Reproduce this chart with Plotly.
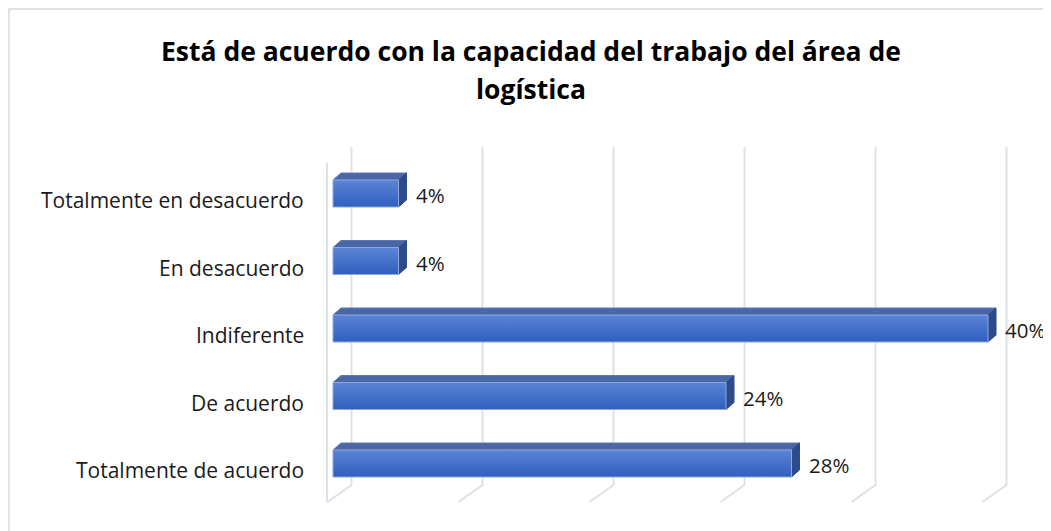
import plotly.graph_objects as go

# ---- data ----
categories = ["Totalmente en desacuerdo", "En desacuerdo", "Indiferente",
              "De acuerdo", "Totalmente de acuerdo"]
values = [4, 4, 40, 24, 28]
value_labels = ["4%", "4%", "40%", "24%", "28%"]
grid_ticks = [0, 8, 16, 24, 32, 40]
title_line1 = "Está de acuerdo con la capacidad del trabajo del área de"
title_line2 = "logística"

# ---- layout geometry (screen pixels; page body has an 8px margin) ----
OFF = 8
W, H = 1051 - OFF, 531 - OFF          # figure size
PX_PER_UNIT = 16.375                  # horizontal scale
X0_PX = 333 - OFF                     # pixel of value 0 (front face)
ROW_PX = 67.5                         # vertical spacing between bars
ROW0_PX = 193.5 - OFF                 # centre pixel of first bar
BAR_HALF = 0.2                        # half bar thickness in row units
DEPTH_DX, DEPTH_DY = 8, 7             # bar 3D depth in pixels


def ux(px):  # pixel distance -> x data units
    return px / PX_PER_UNIT


def uy(px):  # pixel distance -> y data units
    return px / ROW_PX


def sy(screen_y):  # screen y -> y data units
    return uy(screen_y - OFF - ROW0_PX)


x_range = [-X0_PX / PX_PER_UNIT, (W - X0_PX) / PX_PER_UNIT]
y_range = [(H - ROW0_PX) / ROW_PX, -ROW0_PX / ROW_PX]

fig = go.Figure()

# gridlines (back wall + floor)
GRID = "#dde1e8"
back_dx = ux(18.5)
y_top_wall = sy(147)
y_floor_back = sy(485)
y_floor_front = sy(502)
for t in grid_ticks:
    fig.add_trace(go.Scatter(
        x=[t + back_dx, t + back_dx, t + back_dx - ux(24)],
        y=[y_top_wall, y_floor_back, y_floor_front],
        mode="lines", line=dict(color=GRID, width=2),
        hoverinfo="skip", showlegend=False))
# left wall front edge
fig.add_trace(go.Scatter(
    x=[-ux(6), -ux(6)], y=[sy(163), y_floor_front],
    mode="lines", line=dict(color=GRID, width=2),
    hoverinfo="skip", showlegend=False))

# bars
ddx, ddy = ux(DEPTH_DX), uy(DEPTH_DY)
for i, (cat, v) in enumerate(zip(categories, values)):
    top, bot = i - BAR_HALF, i + BAR_HALF
    # top face
    fig.add_trace(go.Scatter(
        x=[0, v, v + ddx, ddx, 0], y=[top, top, top - ddy, top - ddy, top],
        fill="toself", fillcolor="#4b66a4", mode="lines",
        line=dict(color="#5d78b4", width=1),
        hoverinfo="skip", showlegend=False))
    # right face
    fig.add_trace(go.Scatter(
        x=[v, v + ddx, v + ddx, v, v], y=[top, top - ddy, bot - ddy, bot, top],
        fill="toself", fillcolor="#2d4a8b", mode="lines",
        line=dict(color="#2d4a8b", width=1),
        hoverinfo="skip", showlegend=False))
    # front face
    fig.add_trace(go.Scatter(
        x=[0, v, v, 0, 0], y=[top, top, bot, bot, top],
        fill="toself",
        fillgradient=dict(type="vertical", start=top, stop=bot,
                          colorscale=[[0, "#5b84d5"], [1, "#2f5fbe"]]),
        mode="lines", line=dict(color="#8ea7dc", width=1),
        name=cat, hoverinfo="skip", showlegend=False))

FONT = "Open Sans"
annotations = []
# value labels
for i, (v, lab) in enumerate(zip(values, value_labels)):
    annotations.append(dict(
        x=v, y=i, xref="x", yref="y", text=lab, showarrow=False,
        xanchor="left", yanchor="middle", xshift=15, yshift=-1.5,
        font=dict(family=FONT, size=20.5, color="#1a1a1a")))
# category labels
for i, cat in enumerate(categories):
    annotations.append(dict(
        x=0, y=i, xref="x", yref="y", text=cat, showarrow=False,
        xanchor="right", yanchor="middle", xshift=-27, yshift=-6.5,
        font=dict(family=FONT, size=21, color="#1a1a1a")))
# title
annotations.append(dict(
    x=(531 - OFF) / W, y=1 - (51 - OFF) / H, xref="paper", yref="paper",
    text=title_line1, showarrow=False, xanchor="center", yanchor="middle",
    font=dict(family=FONT, size=26.5, color="#000000", weight="bold")))
annotations.append(dict(
    x=(531 - OFF) / W, y=1 - (89 - OFF) / H, xref="paper", yref="paper",
    text=title_line2, showarrow=False, xanchor="center", yanchor="middle",
    font=dict(family=FONT, size=26.5, color="#000000", weight="bold")))

fig.update_layout(
    width=W, height=H,
    margin=dict(l=0, r=0, t=0, b=0),
    paper_bgcolor="white", plot_bgcolor="white",
    xaxis=dict(range=x_range, visible=False, fixedrange=True),
    yaxis=dict(range=y_range, visible=False, fixedrange=True),
    annotations=annotations,
    shapes=[dict(type="rect", xref="paper", yref="paper",
                 x0=(9 - OFF) / W, x1=1.03, y0=-0.03, y1=1 - (9 - OFF) / H,
                 line=dict(color="#d9d9d9", width=1.5), layer="below")],
)

fig.write_html("out.html", config={"displayModeBar": False})
